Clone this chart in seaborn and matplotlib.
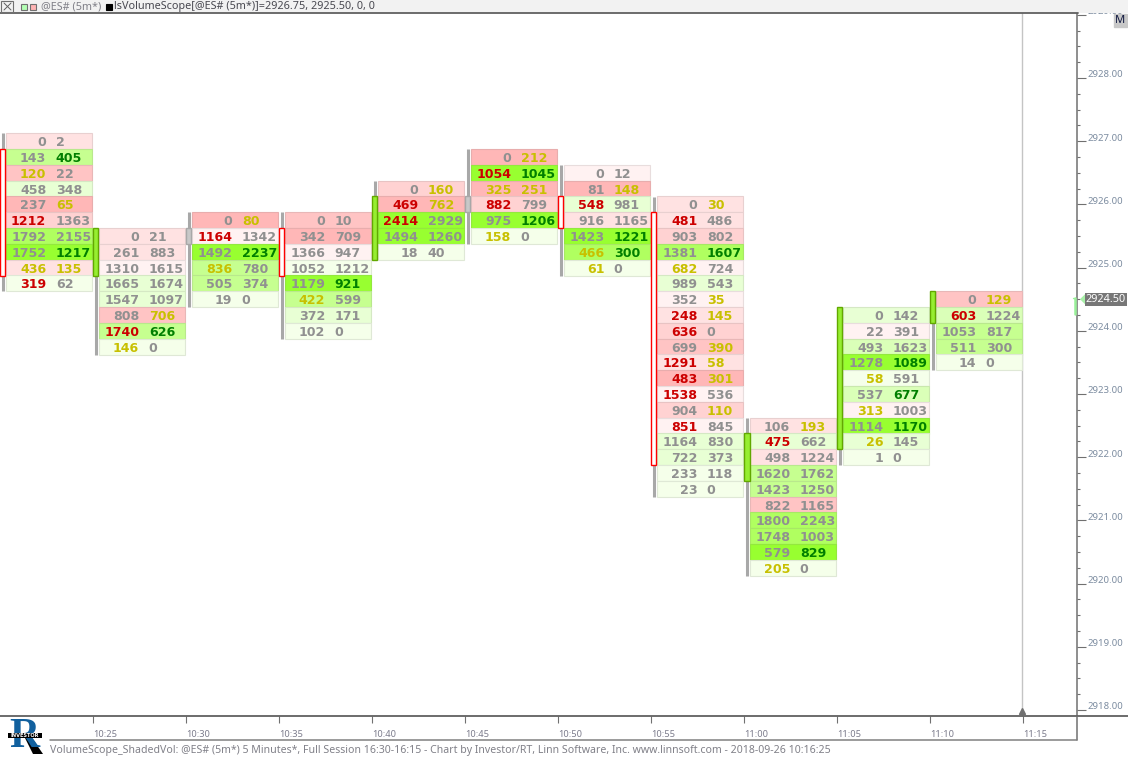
import pandas as pd
import seaborn as sns
import matplotlib.pyplot as plt
from matplotlib.patches import Rectangle, Polygon
from matplotlib.transforms import ScaledTranslation
from matplotlib.ticker import MultipleLocator

sns.set_style('white')
plt.rcParams['font.family'] = ['DejaVu Sans']

#bar times and top price of each footprint
times = ['10:20', '10:25', '10:30', '10:35', '10:40', '10:45', '10:50', '10:55', '11:00', '11:05', '11:10']
tops = [2927.00, 2925.50, 2925.75, 2925.75, 2926.25, 2926.75, 2926.50, 2926.00, 2922.50, 2924.25, 2924.50]
opens = [2926.75, 2925.00, 2925.50, 2925.50, 2925.25, 2926.00, 2926.00, 2925.75, 2921.75, 2922.25, 2924.25]
closes = [2925.00, 2925.50, 2925.50, 2925.00, 2926.00, 2926.00, 2925.75, 2922.00, 2922.25, 2924.25, 2924.50]

#bid volume per row, top to bottom
bid = [
    [0, 143, 120, 458, 237, 1212, 1792, 1752, 436, 319],
    [0, 261, 1310, 1665, 1547, 808, 1740, 146],
    [0, 1164, 1492, 836, 505, 19],
    [0, 342, 1366, 1052, 1179, 422, 372, 102],
    [0, 469, 2414, 1494, 18],
    [0, 1054, 325, 882, 975, 158],
    [0, 81, 548, 916, 1423, 466, 61],
    [0, 481, 903, 1381, 682, 989, 352, 248, 636, 699, 1291, 483, 1538, 904, 851, 1164, 722, 233, 23],
    [106, 475, 498, 1620, 1423, 822, 1800, 1748, 579, 205],
    [0, 22, 493, 1278, 58, 537, 313, 1114, 26, 1],
    [0, 603, 1053, 511, 14],
]
#ask volume per row
ask = [
    [2, 405, 22, 348, 65, 1363, 2155, 1217, 135, 62],
    [21, 883, 1615, 1674, 1097, 706, 626, 0],
    [80, 1342, 2237, 780, 374, 0],
    [10, 709, 947, 1212, 921, 599, 171, 0],
    [160, 762, 2929, 1260, 40],
    [212, 1045, 251, 799, 1206, 0],
    [12, 148, 981, 1165, 1221, 300, 0],
    [30, 486, 802, 1607, 724, 543, 35, 145, 0, 390, 58, 301, 536, 110, 845, 830, 373, 118, 0],
    [193, 662, 1224, 1762, 1250, 1165, 2243, 1003, 829, 0],
    [142, 391, 1623, 1089, 591, 677, 1003, 1170, 145, 0],
    [129, 1224, 817, 300, 0],
]
#shade level per row, red below zero, green above
shade = [
    [-2, 4, -4, 2, -5, -3, 5, 6, -2, 1],
    [-2, -2, -1, 2, 2, -4, 4, 1],
    [-5, -1, 6, 4, 4, 1],
    [-4, -5, -1, 1, 6, 4, 2, 1],
    [-3, -5, 6, 6, 1],
    [-5, 6, -5, -3, 6, 1],
    [-1, -5, 2, -2, 6, 5, 1],
    [-2, -2, -3, 5, -1, 2, -1, -2, -3, -4, -2, -5, -1, -3, -1, 2, 2, 1, 1],
    [-2, 2, -2, 4, 4, -4, 5, 5, 6, 1],
    [2, -1, 3, 6, 1, 3, -1, 6, 2, 1],
    [-4, 3, 4, 4, 1],
]
#imbalance flags: n normal, r red, y yellow, g green
bid_flag = ['nnynnrnnyr', 'nnnnnnry', 'nrnynn', 'nnnnnynn', 'nrrnn', 'nryrny', 'nnrnnyy',
            'nrnnynnrrnrrrnrnnnn', 'nrnnnnnnny', 'nnnnynynyn', 'nrnnn']
ask_flag = ['ngnnynngyn', 'nnnnnygn', 'yngnnn', 'nnnngnnn', 'yynnn', 'ygyngn', 'nynnggn',
            'ynngnnyynyyynynnnnn', 'ynnnnnnngn', 'nnngngngnn', 'ynnnn']
price_ticks = [2918, 2919, 2920, 2921, 2922, 2923, 2924, 2925, 2926, 2927, 2928, 2929]
xtick_labels = ['10:25', '10:30', '10:35', '10:40', '10:45', '10:50', '10:55', '11:00', '11:05', '11:10', '11:15']
last_price = 2924.50

fills = {-5: '#FFB7B7', -4: '#FFC4C4', -3: '#FFD2D2', -2: '#FFE2E2', -1: '#FFF2F2',
         1: '#F5FFEA', 2: '#E8FFD4', 3: '#DAFFB8', 4: '#C6FF90', 5: '#B0FF60', 6: '#98FF30'}
text_cols = {'n': '#909090', 'r': '#CC0000', 'y': '#C8C000', 'g': '#007F00'}

W, H = 1128, 757
X0 = 0.3
BAR_PX = 93.0
AX_R, AX_T, AX_B = 1077.0, 13.0, 715.5
PX_PER_PT = 63.2


def fx(x):
    return x / W


def fy(y):
    return 1 - y / H


def darker(col):
    #cell outline is the fill mixed toward grey
    r, g, b = [int(col[i:i + 2], 16) for i in (1, 3, 5)]
    return '#%02X%02X%02X' % tuple(int(c * 0.82 + 128 * 0.18) for c in (r, g, b))


fig = plt.figure(figsize=(W / 100, H / 100), dpi=100, facecolor='white')
ax = fig.add_axes([0, 1 - AX_B / H, AX_R / W, (AX_B - AX_T) / H])

#wicks
rows = []
for i in range(len(times)):
    rows.append({'bar': i, 'x': i + 3 / BAR_PX, 'y': tops[i] + 0.125})
    rows.append({'bar': i, 'x': i + 3 / BAR_PX, 'y': tops[i] - 0.25 * (len(bid[i]) - 1) - 0.125})
wicks = pd.DataFrame(rows)
sns.lineplot(data=wicks, x='x', y='y', units='bar', estimator=None, sort=False, color='#A8A8A8',
             lw=2.2, solid_capstyle='butt', legend=False, ax=ax)

#cells and numbers
for i in range(len(times)):
    for j in range(len(bid[i])):
        p = tops[i] - 0.25 * j
        col = fills[shade[i][j]]
        ax.barh(p, 86 / BAR_PX, left=i + 5.6 / BAR_PX, height=0.25, color=col, edgecolor=darker(col), lw=0.8, zorder=2)
        ax.text(i + 46 / BAR_PX, p, str(bid[i][j]), ha='right', va='center_baseline', fontsize=9.1, fontweight='bold',
                color=text_cols[bid_flag[i][j]], zorder=3)
        ax.text(i + 55.5 / BAR_PX, p, str(ask[i][j]), ha='left', va='center_baseline', fontsize=9.1, fontweight='bold',
                color=text_cols[ask_flag[i][j]], zorder=3)
    #candle body
    hi, lo = max(opens[i], closes[i]), min(opens[i], closes[i])
    if closes[i] > opens[i]:
        fc, ec = '#96EE30', '#62A800'
    elif closes[i] < opens[i]:
        fc, ec = 'white', '#FF0000'
    else:
        fc, ec = '#C8C8C8', '#A8A8A8'
    ax.add_patch(Rectangle((i - 0.2 / BAR_PX, lo - 0.125), 5.4 / BAR_PX, hi - lo + 0.25, fc=fc, ec=ec, lw=1, zorder=4))

#cursor line
ax.axvline(11 - 1 / BAR_PX, color='#C4C4C4', lw=1, zorder=1)
ax.plot([11 - 1 / BAR_PX], [2918 - 0.02], marker='^', ms=5, color='#707070', clip_on=False, zorder=5)

ax.set_xlim(-X0 / BAR_PX, (AX_R - X0) / BAR_PX)
ax.set_ylim(2928 - (AX_B - 78) / PX_PER_PT, 2928 + (78 - AX_T) / PX_PER_PT)
ax.set_xlabel('')
ax.set_ylabel('')

#axes
ax.set_xticks(range(1, 12))
ax.set_xticklabels(xtick_labels, ha='left', fontsize=6.7, color='#7C7C8C', family='Noto Sans')
ax.tick_params(axis='x', bottom=True, length=5, width=0.8, color='#707070', pad=5.5)
ax.yaxis.tick_right()
ax.set_yticks(price_ticks)
ax.set_yticklabels(['%.2f' % t for t in price_ticks], fontsize=6.9, color='#7C8CA0', family='Noto Sans')
ax.yaxis.set_minor_locator(MultipleLocator(0.25))
ax.tick_params(axis='y', which='major', right=True, length=6.5, width=0.8, color='#707070', pad=0.8)
ax.tick_params(axis='y', which='minor', right=True, length=2.2, width=0.8, color='#707070')
offset = ScaledTranslation(0, 3 / 72, fig.dpi_scale_trans)
for lab in ax.get_yticklabels():
    lab.set_transform(lab.get_transform() + offset)
for s in ['top', 'left']:
    ax.spines[s].set_visible(False)
ax.spines['right'].set_color('#707070')
ax.spines['right'].set_linewidth(1.1)
ax.spines['bottom'].set_color('#606060')
ax.spines['bottom'].set_linewidth(1.3)

#frame lines outside the axes
fig.add_artist(plt.Line2D([fx(AX_R), 1], [fy(AX_B), fy(AX_B)], color='#606060', lw=1.3))
fig.add_artist(plt.Line2D([fx(AX_R), fx(AX_R)], [fy(AX_B), fy(740)], color='#707070', lw=1.1))
fig.add_artist(plt.Line2D([fx(50), fx(AX_R)], [fy(740), fy(740)], color='#808080', lw=1.1))

#header band
fig.add_artist(Rectangle((0, fy(13)), 1, 13 / H, transform=fig.transFigure, fc='#F2F2F2', ec='none', zorder=5))
fig.add_artist(plt.Line2D([0, fx(1078)], [fy(13), fy(13)], color='#606060', lw=1.3, zorder=6))
fig.add_artist(Rectangle((fx(1), fy(12)), 12 / W, 11 / H, transform=fig.transFigure, fc='#F2F2F2', ec='#707070', lw=0.8, zorder=6))
fig.add_artist(plt.Line2D([fx(4), fx(11)], [fy(3), fy(10)], color='#606060', lw=0.7, zorder=7))
fig.add_artist(plt.Line2D([fx(4), fx(11)], [fy(10), fy(3)], color='#606060', lw=0.7, zorder=7))
fig.add_artist(Rectangle((fx(20.5), fy(9.5)), 6 / W, 6 / H, transform=fig.transFigure, fc='#B4FFB4', ec='#707070', lw=0.8, zorder=6))
fig.add_artist(Rectangle((fx(29.5), fy(9.5)), 6 / W, 6 / H, transform=fig.transFigure, fc='#FFB4B4', ec='#707070', lw=0.8, zorder=6))
fig.add_artist(Rectangle((fx(106), fy(10)), 6 / W, 6 / H, transform=fig.transFigure, fc='black', ec='black', lw=0.8, zorder=6))
fig.text(fx(41), fy(7), '@ES# (5m*)', fontsize=7.8, color='#808088', family='Noto Sans', va='center', zorder=7)
fig.text(fx(114), fy(7), 'lsVolumeScope[@ES# (5m*)]=2926.75, 2925.50, 0, 0', fontsize=7.8, color='#484850',
         family='Noto Sans', va='center', zorder=7)

#M button
fig.add_artist(Rectangle((fx(1113.5), fy(27)), 13.5 / W, 13 / H, transform=fig.transFigure, fc='#C8C8C8', ec='#C8C8C8', zorder=6))
fig.text(fx(1120), fy(20.5), 'M', fontsize=8, color='#101840', ha='center', va='center', family='Noto Sans', zorder=7)

#last price flag
y_last = 78 + (2928 - last_price) * PX_PER_PT
fig.add_artist(Polygon([(fx(1080), fy(y_last)), (fx(1085), fy(y_last - 5)), (fx(1085), fy(y_last + 5))],
                       transform=fig.transFigure, fc='#A8F0A8', ec='none', zorder=6))
fig.add_artist(Rectangle((fx(1085), fy(y_last + 6.5)), 42 / W, 13 / H, transform=fig.transFigure, fc='#777777', ec='none', zorder=6))
fig.text(fx(1106), fy(y_last), '%.2f' % last_price, fontsize=7.8, color='white', ha='center', va='center', family='Noto Sans', zorder=7)
fig.add_artist(plt.Line2D([fx(1075), fx(1075)], [fy(y_last - 1), fy(y_last + 15)], color='#98F098', lw=1.8, zorder=6))
fig.add_artist(plt.Line2D([fx(1073), fx(1075)], [fy(y_last - 1), fy(y_last - 1)], color='#98F098', lw=1, zorder=6))

#footer
fig.text(fx(50), fy(750), 'VolumeScope_ShadedVol: @ES# (5m*) 5 Minutes*, Full Session 16:30-16:15 - Chart by Investor/RT, '
         'Linn Software, Inc. www.linnsoft.com - 2018-09-26 10:16:25', fontsize=7.6, color='#808088',
         family='Noto Sans', va='center')

#logo
fig.text(fx(24), fy(737), 'R', fontsize=30, fontweight='bold', color='#11609E', family='Liberation Serif', ha='center', va='center')
fig.add_artist(Polygon([(fx(25), fy(738)), (fx(32), fy(738)), (fx(43), fy(754)), (fx(33), fy(754))],
                       transform=fig.transFigure, fc='black', ec='none', zorder=3))
fig.add_artist(Rectangle((fx(8), fy(738)), 34 / W, 5 / H, transform=fig.transFigure, fc='black', ec='none', zorder=4))
fig.text(fx(25), fy(735.7), 'INVESTOR', fontsize=3.6, color='white', fontweight='bold', ha='center', va='center', zorder=5)

fig.savefig('out.png', dpi=100)
